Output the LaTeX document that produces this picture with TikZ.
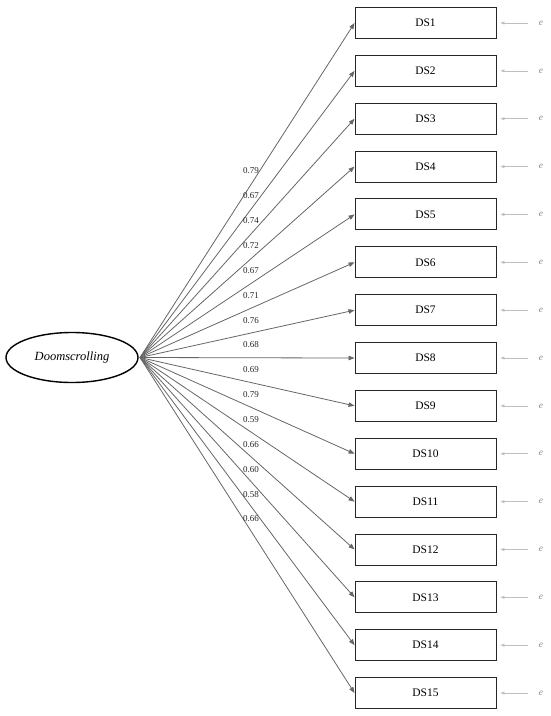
\documentclass[tikz,border=0pt]{standalone}
\usepackage{fontspec}
\setmainfont{Liberation Serif}
\usetikzlibrary{arrows.meta,shapes.geometric}
\begin{document}
\begin{tikzpicture}[x=1pt,y=-1pt,
  obs/.style={draw=black!85,line width=0.9pt,minimum width=141pt,minimum height=31pt,inner sep=0pt,font=\fontsize{11.5}{12}\selectfont},
  lat/.style={ellipse,draw=black,line width=1.4pt,minimum width=132pt,minimum height=50pt,inner sep=0pt,font=\fontsize{12.5}{14}\selectfont\itshape},
  load/.style={draw=black!60,line width=0.8pt,-{Triangle[length=6pt,width=4.5pt]}},
  errarr/.style={draw=black!25,line width=0.6pt,-{Triangle[length=4pt,width=3pt]}},
  errtxt/.style={text=black!45,font=\fontsize{9.5}{10}\selectfont\itshape,inner sep=0pt},
  lbl/.style={font=\fontsize{9}{10}\selectfont,inner sep=0pt,text=black!85}]
\useasboundingbox (0,0) rectangle (550,716);
\node[lat] (L) at (72,357.5) {Doomscrolling};
\coordinate (S) at (140,357.5);
\foreach \i/\v in {1/0.79,2/0.67,3/0.74,4/0.72,5/0.67,6/0.71,7/0.76,8/0.68,9/0.69,10/0.79,11/0.59,12/0.66,13/0.60,14/0.58,15/0.66}{
  \pgfmathsetmacro{\yy}{23+(\i-1)*47.86}
  \node[obs] (DS\i) at (425.5,\yy) {DS\i};
  \draw[load] (S) -- (DS\i.west);
  \pgfmathsetmacro{\ly}{171+(\i-1)*24.86}
  \node[lbl] (lab\i) at (251,\ly) {\v};
  \node[errtxt] (e\i) at (541,\yy) {e};
  \coordinate (ea\i) at (528,\yy);
  \draw[errarr] (ea\i) -- ([xshift=4pt]DS\i.east);
}
\end{tikzpicture}
\end{document}
